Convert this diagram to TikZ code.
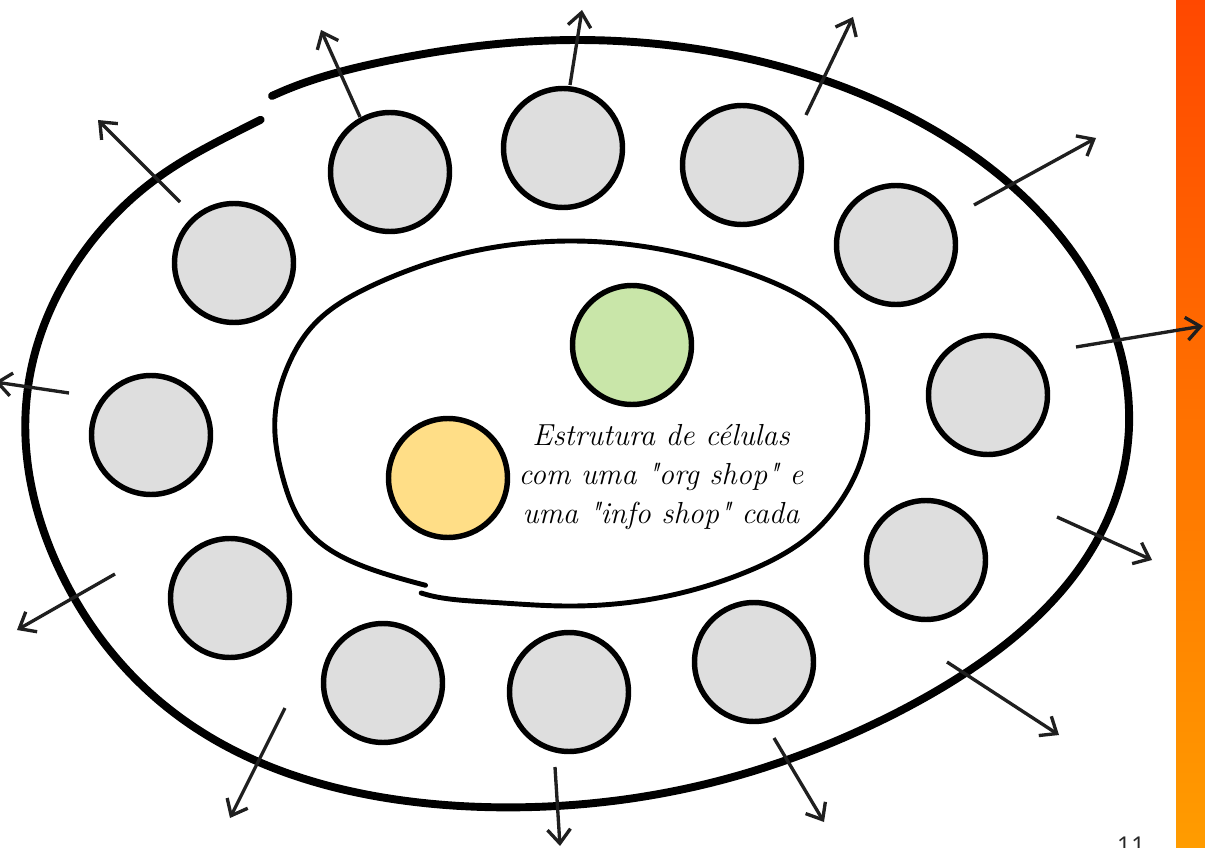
\documentclass[tikz,border=0pt]{standalone}
\usepackage{fontspec}
\newfontfamily\pagefont{Open Sans}
\usepackage{tikz}
\usetikzlibrary{arrows.meta}
\definecolor{cellgray}{HTML}{DEDEDE}
\definecolor{orggreen}{HTML}{C9E6A9}
\definecolor{infoyellow}{HTML}{FFDE87}
\definecolor{barTop}{HTML}{FF4800}
\definecolor{barBottom}{HTML}{FF9C00}
\tikzset{declare function={
    bump(\u)=exp(-min((\u)*(\u),30));
    rhoOut(\t)=1+0.062*bump((\t-125)/28)-0.045*bump((\t-55)/30)+0.018*bump((\t+122)/12)-0.022*bump((\t-234)/12);
    rhoIn(\t)=1+0.07*bump((\t+218)/18)+0.025*bump((\t+145)/15)+0.05*bump((\t+35)/20)+0.015*bump((\t-40)/15)+0.058*bump((\t-119)/12);
}}

\begin{document}
\begin{tikzpicture}[x=0.02cm, y=-0.02cm,
    cell/.style={circle, draw, line width=3.1pt, minimum size=2.38cm, inner sep=0pt, fill=cellgray},
    rim/.style={line width=4.5pt, line cap=round, line join=round},
    arrow/.style={-{Straight Barb[length=2.8mm,width=4.6mm,line width=1.9pt]}, line width=1.9pt, black!88}
]
\useasboundingbox (0,0) rectangle (1205,848);
\clip (0,0) rectangle (1205,848);

\shade[top color=barTop, bottom color=barBottom] (1176,0) rectangle (1205,848);

% outer membrane
\draw[rim] plot[domain=-123:234, samples=220, smooth, variable=\t]
    ({578+552*rhoOut(\t)*cos(\t)}, {422+382*rhoOut(\t)*sin(\t)});

% inner membrane
\draw[line width=2.8pt, line cap=round] plot[domain=-241:118.6, samples=200, smooth, variable=\t]
    ({571+296*rhoIn(\t)*cos(\t)}, {423.5+182.5*rhoIn(\t)*sin(\t)});

\foreach \n/\x/\y in {1/390/172, 2/563/148, 3/742/165, 4/896/245, 5/988/395, 6/926/560,
                      7/754/662, 8/569/692, 9/383/683, 10/230/598, 11/151/435, 12/234/263}
  {\node[cell] (c\n) at (\x,\y) {};}

\node[cell, fill=orggreen] (org) at (632,345) {};
\node[cell, fill=infoyellow] (info) at (448,478) {};

\node[font=\itshape\fontsize{17.3}{22}\selectfont, align=center] (txt) at (661,477)
    {Estrutura de células\\com uma \textquotedbl org shop\textquotedbl{} e\\uma \textquotedbl info shop\textquotedbl{} cada};

\foreach \sx/\sy/\tx/\ty in {180/202/98/120, 360/117/321/30, 570/85/582/10, 806/115/853/17,
                             974/205/1096/138, 1076/347/1203/326, 1057/517/1152/560,
                             947/662/1059/735, 774/738/824/822, 555/767/560/846,
                             285/708/230/818, 115/574/17/630, 69/393/-5/382}
  {\draw[arrow] (\sx,\sy) -- (\tx,\ty);}

\node[font=\pagefont\fontsize{14}{14}\selectfont, text=black!85, anchor=north, inner sep=0pt] (pg) at (1131,837) {11};
\end{tikzpicture}
\end{document}
